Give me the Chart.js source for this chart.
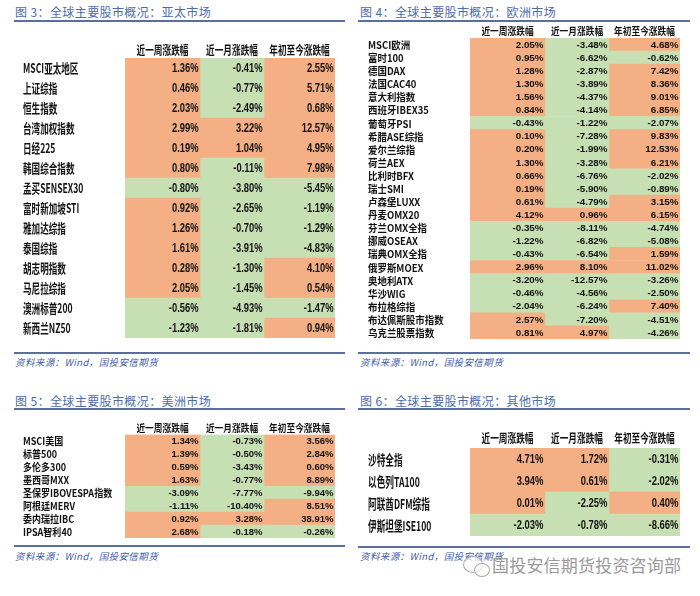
<!DOCTYPE html>
<html>
<head>
<meta charset="utf-8">
<script src="https://cdn.jsdelivr.net/npm/chart.js@4.4.1/dist/chart.umd.min.js"></script>
<style>
  body { margin: 0; width: 700px; height: 596px; background: #fff; position: relative; overflow: hidden; font-family: "Noto Sans CJK SC", sans-serif; }
  canvas { position: absolute; }
  .title { position: absolute; color: #4d6cab; font-size: 12px; letter-spacing: 0.4px; line-height: 16px; white-space: nowrap; }
  .rule { position: absolute; height: 2px; background: #5a6f9f; }
  .src { position: absolute; color: #3f60a8; font-size: 9.5px; font-style: italic; letter-spacing: 0.4px; line-height: 12px; white-space: nowrap; }
  .wm { position: absolute; left: 492px; top: 554px; color: #9a9a9a; font-size: 17px; letter-spacing: 0.2px; line-height: 22px; white-space: nowrap; }
  .bub { position: absolute; border: 1.2px solid #aaa; border-radius: 50%; background: rgba(255,255,255,0.7); }
</style>
</head>
<body>

<div class="title" style="left:15px;top:4px">图 3：全球主要股市概况：亚太市场</div>
<div class="rule" style="left:14px;top:20px;width:331px"></div>
<div class="rule" style="left:14px;top:352px;width:331px"></div>
<div class="src" style="left:15px;top:356px">资料来源：Wind，国投安信期货</div>

<div class="title" style="left:360px;top:4px">图 4：全球主要股市概况：欧洲市场</div>
<div class="rule" style="left:358px;top:20px;width:332px"></div>
<div class="rule" style="left:358px;top:352px;width:332px"></div>
<div class="src" style="left:360px;top:356px">资料来源：Wind，国投安信期货</div>

<div class="title" style="left:15px;top:393px">图 5：全球主要股市概况：美洲市场</div>
<div class="rule" style="left:14px;top:408px;width:331px"></div>
<div class="rule" style="left:14px;top:545px;width:331px"></div>
<div class="src" style="left:15px;top:550px">资料来源：Wind，国投安信期货</div>

<div class="title" style="left:360px;top:393px">图 6：全球主要股市概况：其他市场</div>
<div class="rule" style="left:358px;top:408px;width:332px"></div>
<div class="rule" style="left:358px;top:546px;width:332px"></div>
<div class="src" style="left:360px;top:550px">资料来源：Wind，国投安信期货</div>

<canvas id="asia" width="345" height="325" style="left:0;top:26px"></canvas>
<canvas id="europe" width="345" height="326" style="left:355px;top:24px"></canvas>
<canvas id="america" width="345" height="126" style="left:0;top:414px"></canvas>
<canvas id="other" width="345" height="126" style="left:355px;top:414px"></canvas>

<div class="bub" style="left:463px;top:556px;width:18px;height:15px"></div>
<div class="bub" style="left:474px;top:563px;width:14px;height:12px"></div>
<div class="wm">国投安信期货投资咨询部</div>

<script>
// 表头
const headers = ["近一周涨跌幅", "近一月涨跌幅", "年初至今涨跌幅"];

// 图3 亚太市场
const asiaLabels = ["MSCI亚太地区", "上证综指", "恒生指数", "台湾加权指数", "日经225", "韩国综合指数", "孟买SENSEX30",
  "富时新加坡STI", "雅加达综指", "泰国综指", "胡志明指数", "马尼拉综指", "澳洲标普200", "新西兰NZ50"];
const asiaWeek  = [1.36, 0.46, 2.03, 2.99, 0.19, 0.80, -0.80, 0.92, 1.26, 1.61, 0.28, 2.05, -0.56, -1.23];
const asiaMonth = [-0.41, -0.77, -2.49, 3.22, 1.04, -0.11, -3.80, -2.65, -0.70, -3.91, -1.30, -1.45, -4.93, -1.81];
const asiaYtd   = [2.55, 5.71, 0.68, 12.57, 4.95, 7.98, -5.45, -1.19, -1.29, -4.83, 4.10, 0.54, -1.47, 0.94];

// 图4 欧洲市场
const euLabels = ["MSCI欧洲", "富时100", "德国DAX", "法国CAC40", "意大利指数", "西班牙IBEX35", "葡萄牙PSI", "希腊ASE综指",
  "爱尔兰综指", "荷兰AEX", "比利时BFX", "瑞士SMI", "卢森堡LUXX", "丹麦OMX20", "芬兰OMX全指", "挪威OSEAX", "瑞典OMX全指",
  "俄罗斯MOEX", "奥地利ATX", "华沙WIG", "布拉格综指", "布达佩斯股市指数", "乌克兰股票指数"];
const euWeek  = [2.05, 0.95, 1.28, 1.30, 1.56, 0.84, -0.43, 0.10, 0.20, 1.30, 0.66, 0.19, 0.61, 4.12, -0.35, -1.22, -0.43, 2.96, -3.20, -0.46, -2.04, 2.57, 0.81];
const euMonth = [-3.48, -6.62, -2.87, -3.89, -4.37, -4.14, -1.22, -7.28, -1.99, -3.28, -6.76, -5.90, -4.79, 0.96, -8.11, -6.82, -6.54, 8.10, -12.57, -4.56, -6.24, -7.20, 4.97];
const euYtd   = [4.68, -0.62, 7.42, 8.36, 9.01, 6.85, -2.07, 9.83, 12.53, 6.21, -2.02, -0.89, 3.15, 6.15, -4.74, -5.08, 1.59, 11.02, -3.26, -2.50, 7.40, -4.51, -4.26];

// 图5 美洲市场
const amLabels = ["MSCI美国", "标普500", "多伦多300", "墨西哥MXX", "圣保罗IBOVESPA指数", "阿根廷MERV", "委内瑞拉IBC", "IPSA智利40"];
const amWeek  = [1.34, 1.39, 0.59, 1.63, -3.09, -1.11, 0.92, 2.68];
const amMonth = [-0.73, -0.50, -3.43, -0.77, -7.77, -10.40, 3.28, -0.18];
const amYtd   = [3.56, 2.84, 0.60, 8.89, -9.94, 8.51, 38.91, -0.26];

// 图6 其他市场
const otLabels = ["沙特全指", "以色列TA100", "阿联酋DFM综指", "伊斯坦堡ISE100"];
const otWeek  = [4.71, 3.94, 0.01, -2.03];
const otMonth = [1.72, 0.61, -2.25, -0.78];
const otYtd   = [-0.31, -2.02, 0.40, -8.66];

const UP = "#f4b084";
const DOWN = "#c6e0b4";
const COLS = [0, 75, 139, 210];   // 列边界（x轴单位）
const CJK = '"Noto Sans CJK SC", sans-serif';
const NUM = '"Liberation Sans", Arial, sans-serif';

function scaledText(ctx, t, x, y, sx, align) {
  ctx.save();
  ctx.translate(x, y);
  ctx.scale(sx, 1);
  ctx.textAlign = align;
  ctx.fillText(t, 0, 0);
  ctx.restore();
}

// 行名、表头和数值，位置都从坐标轴和柱子取
const cellText = {
  id: "cellText",
  afterDatasetsDraw(chart, args, o) {
    const ctx = chart.ctx, xs = chart.scales.x, ys = chart.scales.y;
    ctx.save();
    ctx.fillStyle = "#111";
    ctx.textBaseline = "middle";

    ctx.font = "bold " + o.labelSize + "px " + CJK;
    chart.data.labels.forEach((lab, i) => {
      scaledText(ctx, lab, ys.left, ys.getPixelForValue(i) + 0.5, o.labelSx, "left");
    });

    ctx.font = "bold " + o.headSize + "px " + CJK;
    headers.forEach((h, c) => {
      const cx = xs.getPixelForValue((COLS[c] + COLS[c + 1]) / 2);
      scaledText(ctx, h, cx, o.headY, o.headSx, "center");
    });

    ctx.font = "bold " + o.valSize + "px " + NUM;
    chart.data.datasets.forEach((ds, d) => {
      chart.getDatasetMeta(d).data.forEach((bar, i) => {
        const v = ds.values[i].toFixed(2) + "%";
        scaledText(ctx, v, Math.max(bar.x, bar.base) - 1.5, bar.y + 0.5, o.valSx, "right");
      });
    });
    ctx.restore();
  }
};

function makeTable(id, labels, series, p) {
  const cv = document.getElementById(id);
  const top = parseFloat(cv.style.top), left = parseFloat(cv.style.left);
  const a = p.area;
  new Chart(cv, {
    type: "bar",
    data: {
      labels: labels,
      datasets: series.map((vals, c) => ({
        data: vals.map(() => [COLS[c], COLS[c + 1]]),
        values: vals,
        backgroundColor: ctx => vals[ctx.dataIndex] >= 0 ? UP : DOWN
      }))
    },
    options: {
      indexAxis: "y",
      responsive: false,
      animation: false,
      grouped: false,
      barPercentage: 1,
      categoryPercentage: 1,
      borderWidth: 0,
      layout: {
        padding: {
          left: p.labelX - left,
          top: 0,
          right: left + cv.width - a[2],
          bottom: top + cv.height - a[3]
        }
      },
      plugins: {
        legend: { display: false },
        tooltip: { enabled: false },
        cellText: {
          labelSize: p.labelSize, labelSx: p.labelSx,
          headSize: p.headSize, headSx: p.headSx, headY: p.headY - top,
          valSize: p.valSize, valSx: p.valSx
        }
      },
      scales: {
        x: {
          type: "linear", position: "top", min: 0, max: 210,
          grid: { display: false }, border: { display: false }, ticks: { display: false },
          afterFit: s => { s.height = a[1] - top; }
        },
        y: {
          grid: { display: false }, border: { display: false }, ticks: { display: false },
          afterFit: s => { s.width = a[0] - p.labelX; }
        }
      }
    },
    plugins: [cellText]
  });
}

makeTable("asia", asiaLabels, [asiaWeek, asiaMonth, asiaYtd], {
  area: [125, 58, 335, 338], labelX: 23, headY: 50,
  labelSize: 13, labelSx: 0.66, headSize: 12, headSx: 0.72, valSize: 12.5, valSx: 0.75
});
makeTable("europe", euLabels, [euWeek, euMonth, euYtd], {
  area: [470, 38, 680, 339], labelX: 368, headY: 31.5,
  labelSize: 10.5, labelSx: 0.9, headSize: 10, headSx: 0.87, valSize: 9.8, valSx: 1.0
});
makeTable("america", amLabels, [amWeek, amMonth, amYtd], {
  area: [125, 434.5, 335, 538], labelX: 23, headY: 428,
  labelSize: 10.5, labelSx: 0.86, headSize: 10, headSx: 0.87, valSize: 9.8, valSx: 0.97
});
makeTable("other", otLabels, [otWeek, otMonth, otYtd], {
  area: [470, 448, 680, 536], labelX: 368, headY: 438,
  labelSize: 13.5, labelSx: 0.64, headSize: 12, headSx: 0.72, valSize: 13.5, valSx: 0.7
});
</script>
</body>
</html>
